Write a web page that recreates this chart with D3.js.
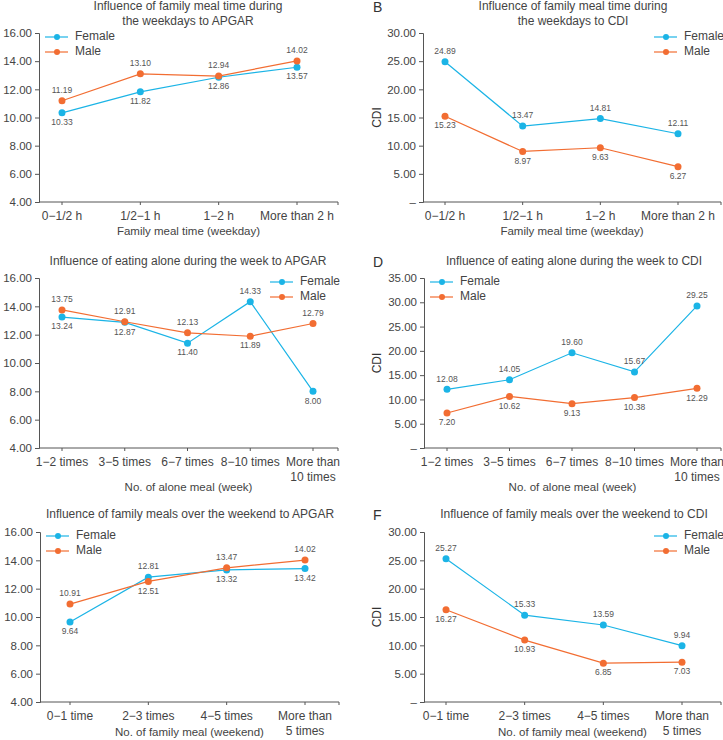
<!DOCTYPE html>
<html>
<head>
<meta charset="utf-8">
<script src="https://cdn.jsdelivr.net/npm/d3@7"></script>
<style>
  body { margin: 0; background: #fff; }
  svg text { font-family: "Liberation Sans", Arial, sans-serif; fill: #444; }
</style>
</head>
<body>
<div id="chart"></div>
<script>
// categories
const mealTimeCats = ['0\u22121/2 h', '1/2\u22121 h', '1\u22122 h', 'More than 2 h'];
const aloneCats = ['1\u22122 times', '3\u22125 times', '6\u22127 times', '8\u221210 times', 'More than\n10 times'];
const weekendCats = ['0\u22121 time', '2\u22123 times', '4\u22125 times', 'More than\n5 times'];

// series values
const apgarWeekdayFemale = [10.33, 11.82, 12.86, 13.57];
const apgarWeekdayMale = [11.19, 13.10, 12.94, 14.02];
const cdiWeekdayFemale = [24.89, 13.47, 14.81, 12.11];
const cdiWeekdayMale = [15.23, 8.97, 9.63, 6.27];
const apgarAloneFemale = [13.24, 12.87, 11.40, 14.33, 8.00];
const apgarAloneMale = [13.75, 12.91, 12.13, 11.89, 12.79];
const cdiAloneFemale = [12.08, 14.05, 19.60, 15.67, 29.25];
const cdiAloneMale = [7.20, 10.62, 9.13, 10.38, 12.29];
const apgarWeekendFemale = [9.64, 12.81, 13.32, 13.42];
const apgarWeekendMale = [10.91, 12.51, 13.47, 14.02];
const cdiWeekendFemale = [25.27, 15.33, 13.59, 9.94];
const cdiWeekendMale = [16.27, 10.93, 6.85, 7.03];

// y tick values
const apgarTicks = [4, 6, 8, 10, 12, 14, 16];
const cdiTicks30 = [0, 5, 10, 15, 20, 25, 30];
const cdiTicks35 = [0, 5, 10, 15, 20, 25, 30, 35];

const width = 723;
const height = 740;
const femaleColor = '#1bb4e6';
const maleColor = '#f26d32';

const svg = d3.select('#chart')
    .append('svg')
    .attr('width', width)
    .attr('height', height);

const panels = [
    {
        letter: null, title: ['Influence of family meal time during', 'the weekdays to APGAR'],
        cats: mealTimeCats, female: apgarWeekdayFemale, male: apgarWeekdayMale,
        ticks: apgarTicks, yLabel: null, xTitle: 'Family meal time (weekday)',
        left: 39, right: 338, top: 33, bottom: 202, xr: [62, 297], cx: 188,
        titleY: 7, xTitleY: 232, legendX: 45
    },
    {
        letter: 'B', title: ['Influence of family meal time during', 'the weekdays to CDI'],
        cats: mealTimeCats, female: cdiWeekdayFemale, male: cdiWeekdayMale,
        ticks: cdiTicks30, yLabel: 'CDI', xTitle: 'Family meal time (weekday)',
        left: 423, right: 721, top: 33, bottom: 202, xr: [445, 678], cx: 573,
        titleY: 7, xTitleY: 232, legendX: 654
    },
    {
        letter: null, title: ['Influence of eating alone during the week to APGAR'],
        cats: aloneCats, female: apgarAloneFemale, male: apgarAloneMale,
        ticks: apgarTicks, yLabel: null, xTitle: 'No. of alone meal (week)',
        left: 39, right: 338, top: 278, bottom: 448, xr: [62, 313], cx: 188,
        titleY: 262, xTitleY: 488, legendX: 270
    },
    {
        letter: 'D', title: ['Influence of eating alone during the week to CDI'],
        cats: aloneCats, female: cdiAloneFemale, male: cdiAloneMale,
        ticks: cdiTicks35, yLabel: 'CDI', xTitle: 'No. of alone meal (week)',
        left: 424, right: 721, top: 278, bottom: 448, xr: [447, 697], cx: 574,
        titleY: 262, xTitleY: 488, legendX: 430
    },
    {
        letter: null, title: ['Influence of family meals over the weekend to APGAR'],
        cats: weekendCats, female: apgarWeekendFemale, male: apgarWeekendMale,
        ticks: apgarTicks, yLabel: null, xTitle: 'No. of family meal (weekend)',
        left: 40, right: 339, top: 532, bottom: 702, xr: [70, 305], cx: 190,
        titleY: 515, xTitleY: 733, legendX: 46
    },
    {
        letter: 'F', title: ['Influence of family meals over the weekend to CDI'],
        cats: weekendCats, female: cdiWeekendFemale, male: cdiWeekendMale,
        ticks: cdiTicks30, yLabel: 'CDI', xTitle: 'No. of family meal (weekend)',
        left: 424, right: 721, top: 532, bottom: 702, xr: [446, 682], cx: 574,
        titleY: 515, xTitleY: 733, legendX: 654
    }
];

function drawPanel(p) {
    const g = svg.append('g');

    const x = d3.scalePoint().domain(p.cats).range(p.xr);
    const y = d3.scaleLinear()
        .domain(d3.extent(p.ticks))
        .range([p.bottom, p.top]);

    // title
    p.title.forEach((line, i) => {
        g.append('text')
            .attr('x', p.cx)
            .attr('y', p.titleY + i * 15)
            .attr('text-anchor', 'middle')
            .attr('dominant-baseline', 'middle')
            .style('font-size', '12px')
            .text(line);
    });

    if (p.letter) {
        g.append('text')
            .attr('x', 373)
            .attr('y', p.titleY + 1)
            .attr('dominant-baseline', 'middle')
            .style('font-size', '14px')
            .style('fill', '#333')
            .text(p.letter);
    }

    // y axis
    const yAxis = g.append('g')
        .attr('transform', `translate(${p.left},0)`)
        .call(d3.axisLeft(y)
            .tickValues(p.ticks)
            .tickSize(4)
            .tickPadding(3)
            .tickFormat((d) => d === 0 ? '\u2013' : d3.format('.2f')(d)));
    yAxis.select('.domain').attr('stroke', '#555');
    yAxis.selectAll('.tick line').attr('stroke', '#555');
    yAxis.selectAll('.tick text')
        .style('font-size', '11.5px')
        .style('font-family', '"Liberation Sans", Arial, sans-serif')
        .attr('fill', '#444');

    // x axis
    const xAxisG = g.append('g')
        .attr('transform', `translate(0,${p.bottom})`);
    xAxisG.append('line')
        .attr('x1', p.left).attr('x2', p.right)
        .attr('stroke', '#555');
    xAxisG.append('line')
        .attr('x1', p.right).attr('x2', p.right)
        .attr('y1', 0).attr('y2', 3)
        .attr('stroke', '#555');
    const ticks = xAxisG.selectAll('.xtick')
        .data(p.cats)
        .join('g')
        .attr('class', 'xtick')
        .attr('transform', (d) => `translate(${x(d)},0)`);
    ticks.append('line')
        .attr('y2', 3)
        .attr('stroke', '#555');
    ticks.each(function (d) {
        const t = d3.select(this).append('text')
            .attr('text-anchor', 'middle')
            .style('font-size', '12px');
        d.split('\n').forEach((line, i) => {
            t.append('tspan')
                .attr('x', 0)
                .attr('y', 18 + i * 15)
                .text(line);
        });
    });

    g.append('text')
        .attr('x', (p.left + p.right) / 2)
        .attr('y', p.xTitleY)
        .attr('text-anchor', 'middle')
        .attr('dominant-baseline', 'middle')
        .style('font-size', '11.5px')
        .text(p.xTitle);

    if (p.yLabel) {
        g.append('text')
            .attr('transform', `translate(378,${(p.top + p.bottom) / 2}) rotate(-90)`)
            .attr('text-anchor', 'middle')
            .attr('dominant-baseline', 'middle')
            .style('font-size', '12px')
            .style('fill', '#333')
            .text(p.yLabel);
    }

    // lines and points
    const series = [
        { name: 'Female', values: p.female, color: femaleColor },
        { name: 'Male', values: p.male, color: maleColor }
    ];
    const line = d3.line()
        .x((d, i) => x(p.cats[i]))
        .y((d) => y(d));

    series.forEach((s, si) => {
        const other = series[1 - si].values;
        g.append('path')
            .datum(s.values)
            .attr('fill', 'none')
            .attr('stroke', s.color)
            .attr('stroke-width', 1.2)
            .attr('d', line);
        g.selectAll(null)
            .data(s.values)
            .join('circle')
            .attr('cx', (d, i) => x(p.cats[i]))
            .attr('cy', (d) => y(d))
            .attr('r', 3.5)
            .attr('fill', s.color);
        // label above the higher of the two series, below the lower
        g.selectAll(null)
            .data(s.values)
            .join('text')
            .attr('x', (d, i) => x(p.cats[i]))
            .attr('y', (d, i) => y(d) + (d >= other[i] ? -10 : 10))
            .attr('text-anchor', 'middle')
            .attr('dominant-baseline', 'middle')
            .style('font-size', '8.5px')
            .style('fill', '#555')
            .text((d) => d.toFixed(2));
    });

    // legend
    series.forEach((s, i) => {
        const ly = p.top + 4 + i * 15;
        g.append('line')
            .attr('x1', p.legendX).attr('x2', p.legendX + 23)
            .attr('y1', ly).attr('y2', ly)
            .attr('stroke', s.color)
            .attr('stroke-width', 1.2);
        g.append('circle')
            .attr('cx', p.legendX + 12)
            .attr('cy', ly)
            .attr('r', 3)
            .attr('fill', s.color);
        g.append('text')
            .attr('x', p.legendX + 30)
            .attr('y', ly)
            .attr('dominant-baseline', 'middle')
            .style('font-size', '12px')
            .text(s.name);
    });
}

panels.forEach(drawPanel);
</script>
</body>
</html>
